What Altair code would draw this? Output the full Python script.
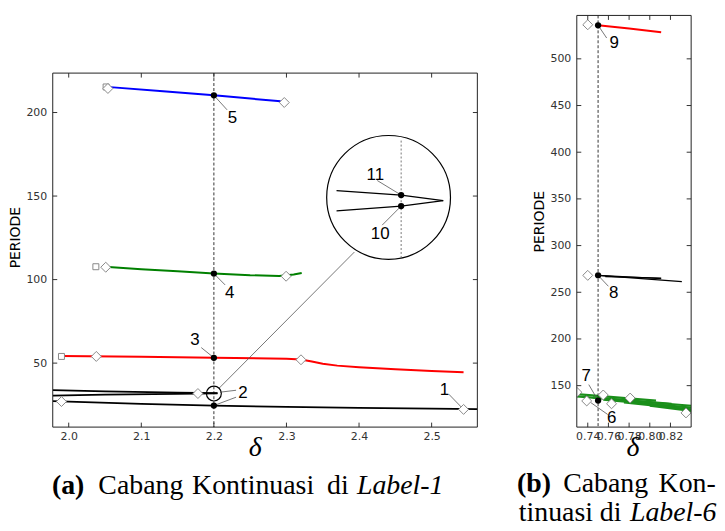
import altair as alt
import pandas as pd

# ===================== Panel (a): Cabang Kontinuasi di Label-1 =====================
A_XDOM = [1.978, 2.563]
A_YDOM = [11.7, 223.6]
a_xticks = [2.0, 2.1, 2.2, 2.3, 2.4, 2.5]
a_yticks = [50, 100, 150, 200]
a_cut = [2.2]

blue_x = [2.057, 2.13, 2.2, 2.292]
blue_y = [215.2, 212.8, 210.3, 206.7]
green_x = [2.055, 2.10, 2.15, 2.20, 2.25, 2.29, 2.31, 2.321]
green_y = [107.5, 106.2, 105.0, 103.6, 102.6, 102.2, 103.0, 104.0]
red_x = [1.990, 2.10, 2.20, 2.30, 2.32, 2.335, 2.35, 2.37, 2.40, 2.45, 2.50, 2.544]
red_y = [54.2, 53.8, 53.2, 52.6, 52.2, 51.0, 49.6, 48.5, 47.5, 46.3, 45.3, 44.6]
blk1_x = [1.978, 2.05, 2.15, 2.205]
blk1_y = [33.8, 33.1, 32.4, 32.1]
blk2_x = [1.978, 2.05, 2.15, 2.205]
blk2_y = [30.6, 31.1, 31.6, 31.9]
blk3_x = [1.978, 2.0, 2.1, 2.2, 2.3, 2.4, 2.5, 2.563]
blk3_y = [27.3, 27.0, 25.6, 24.6, 23.8, 23.2, 22.7, 22.4]
# magnified inset (drawn in data units of the panel)
zup_x = [2.369, 2.458, 2.516]
zup_y = [153.2, 150.6, 147.3]
zlo_x = [2.369, 2.458, 2.516]
zlo_y = [141.1, 144.0, 147.3]
zcut_x = [2.458]
zcut_y = [183.2]
zcut_y2 = [112.9]

a_dia_x = [2.054, 2.297, 2.051, 2.2995, 2.038, 2.320, 2.178, 1.990, 2.544]
a_dia_y = [214.4, 206.0, 107.4, 102.0, 54.0, 52.0, 31.8, 27.0, 22.3]
a_sq_x = [2.0515, 2.0374, 1.990]
a_sq_y = [215.3, 107.7, 54.0]
a_pt_x = [2.2, 2.2, 2.2, 2.2, 2.458, 2.458]
a_pt_y = [210.3, 103.6, 53.2, 24.6, 150.6, 144.0]
a_small_circle_x = [2.2]
a_small_circle_y = [31.8]
a_big_circle_x = [2.4407]
a_big_circle_y = [149.2]

a_lab_text = ["5", "4", "3", "2", "1", "11", "10"]
a_lab_x = [2.2255, 2.2219, 2.174, 2.2401, 2.5178, 2.4224, 2.4292]
a_lab_y = [196.7, 92.1, 63.7, 32.0, 33.6, 162.5, 127.4]
# leader lines: start / end
a_ld_x1 = [2.2, 2.2, 2.1826, 2.2306, 2.2306, 2.5237, 2.4251, 2.4319, 2.207]
a_ld_y1 = [210.3, 103.6, 59.3, 33.75, 29.6, 31.4, 159.3, 132.6, 34.9]
a_ld_x2 = [2.2182, 2.2155, 2.2, 2.2086, 2.2, 2.544, 2.458, 2.458, 2.3936]
a_ld_y2 = [201.6, 96.8, 53.2, 32.6, 24.6, 22.3, 150.6, 144.0, 116.5]

# ===================== Panel (b): Cabang Kontinuasi di Label-6 =====================
B_XDOM = [0.7294, 0.840]
B_YDOM = [105.6, 546.5]
b_xticks = [0.74, 0.76, 0.78, 0.80, 0.82]
b_yticks = [150, 200, 250, 300, 350, 400, 450, 500]
b_cut = [0.75]

red9_x = [0.75, 0.78, 0.811]
red9_y = [535.9, 532.4, 528.4]
k1_x = [0.75, 0.811]
k1_y = [268.1, 264.6]
k2_x = [0.75, 0.831]
k2_y = [268.1, 261.4]
k3_x = [0.757, 0.811]
k3_y = [266.8, 265.3]
g1_x = [0.7294, 0.806]
g1_y = [141.0, 134.0]
g2_x = [0.7294, 0.790, 0.840]
g2_y = [138.5, 133.0, 128.5]
g3_x = [0.745, 0.821]
g3_y = [137.5, 130.5]
g4_x = [0.755, 0.840]
g4_y = [135.0, 126.5]
g5_x = [0.775, 0.840]
g5_y = [132.0, 124.5]
g6_x = [0.800, 0.840]
g6_y = [128.5, 123.0]

b_dia_x = [0.740, 0.740, 0.7294, 0.739, 0.755, 0.763, 0.781, 0.835]
b_dia_y = [536.5, 268.1, 143.0, 133.6, 140.0, 130.6, 136.7, 120.8]
b_pt_x = [0.75, 0.75, 0.75]
b_pt_y = [535.9, 268.1, 134.0]
b_lab_text = ["9", "8", "7", "6"]
b_lab_x = [0.7657, 0.765, 0.7384, 0.7631]
b_lab_y = [517.3, 249.3, 159.9, 114.9]
b_ld_x1 = [0.7583, 0.760, 0.741, 0.7429]
b_ld_y1 = [522.3, 256.4, 151.1, 131.9]
b_ld_x2 = [0.75, 0.75, 0.75, 0.7593]
b_ld_y2 = [535.9, 268.1, 134.0, 119.1]

# captions
cap_a_words = ["(a)", "Cabang", "Kontinuasi", "di", "Label-1"]
cap_a_style = ["bold", "normal", "normal", "normal", "italic"]
cap_b_words = ["(b)", "Cabang", "Kon-", "tinuasi", "di", "Label-6"]
cap_b_style = ["bold", "normal", "normal", "normal", "normal", "italic"]

# ------------------------------------------------------------------ layout
A_W, A_H = 427, 356
B_W, B_H = 115, 414
A_TOP_GAP = 57
cap_a_px = [15.5, 88.6, 201.5, 286.8, 349.4]
cap_a_py = [423] * 5
cap_b_px = [-43, 29, 111, -21, 34, 97]
cap_b_py = [479, 479, 479, 508, 508, 508]

LABEL_FONT = "DejaVu Sans"


def series_df(series):
    rows = []
    for name, xs, ys, col, w in series:
        for i, (x, y) in enumerate(zip(xs, ys)):
            rows.append(dict(seg=name, i=i, x=x, y=y, c=col, w=w))
    return pd.DataFrame(rows)


def seg_df(x1, y1, x2, y2):
    rows = []
    for k in range(len(x1)):
        rows.append(dict(seg=k, i=0, x=x1[k], y=y1[k]))
        rows.append(dict(seg=k, i=1, x=x2[k], y=y2[k]))
    return pd.DataFrame(rows)


ONE = pd.DataFrame({"k": [0]})


def panel(X, Y, W, H, lines, cut, dia, sq, pts, leaders, labels, extra_back, extra_front,
          xt, yt, captions):
    layers = []
    layers.append(alt.Chart(lines).mark_line(clip=True).encode(
        x=X, y=Y, detail="seg:N", order="i:Q",
        color=alt.Color("c:N", scale=None),
        strokeWidth=alt.StrokeWidth("w:Q", scale=None)))
    layers.append(alt.Chart(pd.DataFrame({"x": cut})).mark_rule(
        color="black", strokeWidth=0.8, strokeDash=[3, 2]).encode(x=X))
    layers += extra_back
    layers.append(alt.Chart(leaders).mark_line(color="#555", strokeWidth=0.8).encode(
        x=X, y=Y, detail="seg:N", order="i:Q"))
    layers += extra_front
    if sq is not None:
        layers.append(alt.Chart(sq).mark_point(shape="square", size=36, filled=True, fill="white",
                                              stroke="#888", strokeWidth=1, opacity=1).encode(x=X, y=Y))
    layers.append(alt.Chart(dia).mark_point(shape="diamond", size=100, filled=True, fill="white",
                                           stroke="#888", strokeWidth=1, opacity=1, clip=True).encode(x=X, y=Y))
    layers.append(alt.Chart(pts).mark_circle(size=40, color="black", opacity=1).encode(x=X, y=Y))
    layers.append(alt.Chart(labels).mark_text(font="Liberation Sans", fontSize=17, color="black",
                                             align="center", baseline="middle").encode(x=X, y=Y, text="t:N"))
    # inward ticks
    dfx = pd.DataFrame({"x": xt})
    dfy = pd.DataFrame({"y": yt})
    L = 4.5
    layers.append(alt.Chart(dfx).mark_rule(color="#333", strokeWidth=1).encode(
        x=X, y=alt.value(H), y2=alt.value(H - L)))
    layers.append(alt.Chart(dfx).mark_rule(color="#333", strokeWidth=1).encode(
        x=X, y=alt.value(0), y2=alt.value(L)))
    layers.append(alt.Chart(dfy).mark_rule(color="#333", strokeWidth=1).encode(
        y=Y, x=alt.value(0), x2=alt.value(L)))
    layers.append(alt.Chart(dfy).mark_rule(color="#333", strokeWidth=1).encode(
        y=Y, x=alt.value(W), x2=alt.value(W - L)))
    # frame
    layers.append(alt.Chart(ONE).mark_rect(filled=False, color="#222", strokeWidth=1).encode(
        x=alt.value(0), x2=alt.value(W), y=alt.value(0), y2=alt.value(H)))
    # caption words
    for word, style, px, py in captions:
        weight = "bold" if style == "bold" else "normal"
        fstyle = "italic" if style == "italic" else "normal"
        layers.append(alt.Chart(pd.DataFrame({"t": [word]})).mark_text(
            font="Liberation Serif", fontSize=28, fontWeight=weight, fontStyle=fstyle,
            color="black", align="center", baseline="alphabetic").encode(
            x=alt.value(px), y=alt.value(py), text="t:N"))
    return alt.layer(*layers).properties(width=W, height=H)


# ---------------- panel (a) encodings
AX = alt.X("x:Q", scale=alt.Scale(domain=A_XDOM, nice=False, zero=False),
           axis=alt.Axis(values=a_xticks, format=".1f", title="δ", ticks=False, tickSize=0,
                         domain=False, grid=False, labelPadding=3.5, labelFlush=False,
                         labelOverlap=False, titleFont="Liberation Serif", titleFontStyle="italic",
                         titleFontWeight="normal", titleFontSize=28, titleColor="black",
                         titleX=203, titleY=29, titleBaseline="alphabetic", titleAlign="center"))
AY = alt.Y("y:Q", scale=alt.Scale(domain=A_YDOM, nice=False, zero=False),
           axis=alt.Axis(values=a_yticks, format="d", title="PERIODE", ticks=False, tickSize=0,
                         domain=False, grid=False, labelPadding=6, labelFlush=False,
                         titlePadding=3, titleFont=LABEL_FONT, titleFontSize=14,
                         titleFontWeight="normal", titleColor="black", titleY=165))

a_lines = series_df([
    ("blue", blue_x, blue_y, "#0000ff", 2),
    ("green", green_x, green_y, "#008000", 2),
    ("red", red_x, red_y, "#ff0000", 2),
    ("k1", blk1_x, blk1_y, "#000000", 1.8),
    ("k2", blk2_x, blk2_y, "#000000", 1.8),
    ("k3", blk3_x, blk3_y, "#000000", 1.8),
])
a_inset = series_df([
    ("zu", zup_x, zup_y, "#000000", 1.3),
    ("zl", zlo_x, zlo_y, "#000000", 1.3),
])
big_circle = alt.Chart(pd.DataFrame({"x": a_big_circle_x, "y": a_big_circle_y})).mark_point(
    shape="circle", size=15500, filled=True, fill="white", stroke="black", strokeWidth=1.2,
    opacity=1).encode(x=AX, y=AY)
small_circle = alt.Chart(pd.DataFrame({"x": a_small_circle_x, "y": a_small_circle_y})).mark_point(
    shape="circle", size=225, filled=False, color="black", strokeWidth=1.2, opacity=1).encode(x=AX, y=AY)
inset_cut = alt.Chart(pd.DataFrame({"x": zcut_x, "y": zcut_y, "y2": zcut_y2})).mark_rule(
    color="#555", strokeWidth=0.8, strokeDash=[2, 2]).encode(x=AX, y=AY, y2="y2:Q")
inset_lines = alt.Chart(a_inset).mark_line().encode(
    x=AX, y=AY, detail="seg:N", order="i:Q",
    color=alt.Color("c:N", scale=None), strokeWidth=alt.StrokeWidth("w:Q", scale=None))

left = panel(
    AX, AY, A_W, A_H, a_lines, a_cut,
    pd.DataFrame({"x": a_dia_x, "y": a_dia_y}),
    pd.DataFrame({"x": a_sq_x, "y": a_sq_y}),
    pd.DataFrame({"x": a_pt_x, "y": a_pt_y}),
    seg_df(a_ld_x1, a_ld_y1, a_ld_x2, a_ld_y2),
    pd.DataFrame({"x": a_lab_x, "y": a_lab_y, "t": a_lab_text}),
    [big_circle, inset_cut, inset_lines],
    [small_circle],
    a_xticks, a_yticks,
    list(zip(cap_a_words, cap_a_style, cap_a_px, cap_a_py)),
)

# invisible spacer that lowers panel (a) relative to panel (b)
spacer = alt.Chart(ONE).mark_rule(strokeWidth=0, opacity=0).encode(
    x=alt.value(0), y=alt.value(0), y2=alt.value(A_TOP_GAP)
).properties(width=1, height=A_TOP_GAP)
left_col = alt.vconcat(spacer, left, spacing=0)

# ---------------- panel (b) encodings
BX = alt.X("x:Q", scale=alt.Scale(domain=B_XDOM, nice=False, zero=False),
           axis=alt.Axis(values=b_xticks, format=".2f", title="δ", ticks=False, tickSize=0,
                         domain=False, grid=False, labelPadding=3.5, labelFlush=False,
                         labelOverlap=False, titleFont="Liberation Serif", titleFontStyle="italic",
                         titleFontWeight="normal", titleFontSize=28, titleColor="black",
                         titleX=56, titleY=28.5, titleBaseline="alphabetic", titleAlign="center"))
BY = alt.Y("y:Q", scale=alt.Scale(domain=B_YDOM, nice=False, zero=False),
           axis=alt.Axis(values=b_yticks, format="d", title="PERIODE", ticks=False, tickSize=0,
                         domain=False, grid=False, labelPadding=6, labelFlush=False,
                         titlePadding=3, titleFont=LABEL_FONT, titleFontSize=14,
                         titleFontWeight="normal", titleColor="black"))

b_lines = series_df([
    ("r9", red9_x, red9_y, "#ff0000", 2),
    ("k1", k1_x, k1_y, "#000000", 1.2),
    ("k2", k2_x, k2_y, "#000000", 1.2),
    ("k3", k3_x, k3_y, "#000000", 1.2),
    ("g1", g1_x, g1_y, "#1a8f1a", 2.2),
    ("g2", g2_x, g2_y, "#1a8f1a", 2.2),
    ("g3", g3_x, g3_y, "#1a8f1a", 2.2),
    ("g4", g4_x, g4_y, "#1a8f1a", 2.2),
    ("g5", g5_x, g5_y, "#1a8f1a", 2.2),
    ("g6", g6_x, g6_y, "#1a8f1a", 2.2),
])

right = panel(
    BX, BY, B_W, B_H, b_lines, b_cut,
    pd.DataFrame({"x": b_dia_x, "y": b_dia_y}),
    None,
    pd.DataFrame({"x": b_pt_x, "y": b_pt_y}),
    seg_df(b_ld_x1, b_ld_y1, b_ld_x2, b_ld_y2),
    pd.DataFrame({"x": b_lab_x, "y": b_lab_y, "t": b_lab_text}),
    [], [],
    b_xticks, b_yticks,
    list(zip(cap_b_words, cap_b_style, cap_b_px, cap_b_py)),
)

chart = alt.hconcat(left_col, right, spacing=38).properties(
    padding={"left": 1, "top": 5, "right": 0, "bottom": 0}
).configure_view(strokeWidth=0).configure_axis(
    labelFont=LABEL_FONT, labelFontSize=11, labelColor="#333"
)

chart.save("out.html", embed_options={"renderer": "svg", "actions": False})
